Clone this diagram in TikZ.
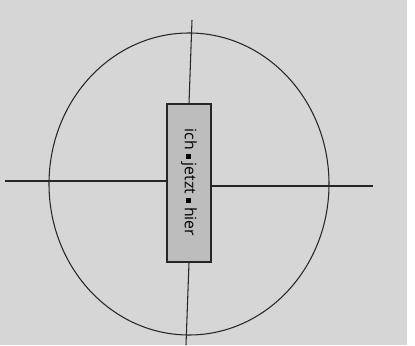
\documentclass[tikz,border=0pt]{standalone}
\usepackage{fontspec}
\setsansfont{Open Sans}
\usepackage{tikz}
\usetikzlibrary{positioning}
\definecolor{paper}{HTML}{D6D6D6}
\definecolor{boxgray}{HTML}{BDBDBD}
\tikzset{
    axis line/.style={
        line width=1.5pt,
        draw=black!85
    },
    ring/.style={
        line width=1.5pt,
        draw=black!85
    },
    center box/.style={
        draw=black!85,
        line width=1.5pt,
        fill=boxgray,
        minimum width=22mm,
        minimum height=79mm,
        inner sep=0pt
    }
}
\newcommand{\dotsep}{\ \raisebox{0.1em}{\rule{0.3em}{0.3em}}\ }

\begin{document}
\begin{tikzpicture}[
    x=0.5mm,
    y=-0.5mm
]

    % Hintergrund
    \fill[paper] (0,0) rectangle (407,345);
    \fill[white] (407,0) rectangle (415,345);
    \useasboundingbox (0,0) rectangle (415,345);

    % Kreis
    \coordinate (mid) at (189,184);
    \draw[ring] (mid) ellipse[x radius=140, y radius=151];

    % Achsen
    \coordinate (top)    at (192,20);
    \coordinate (bottom) at (186,345);
    \coordinate (left)   at (5,181);
    \coordinate (right)  at (373,186);

    \node[center box] (box) at (189,183) {};
    \node[rotate=-90, font=\sffamily\fontsize{22.5}{26}\selectfont]
        (label) at (189,182.5) {ich\dotsep jetzt\dotsep hier};

    \draw[axis line] (top)   -- (box.north);
    \draw[axis line] (box.south) -- (bottom);
    \draw[axis line] (left)  -- (box.west |- left);
    \draw[axis line] (box.east |- right) -- (right);

\end{tikzpicture}
\end{document}
